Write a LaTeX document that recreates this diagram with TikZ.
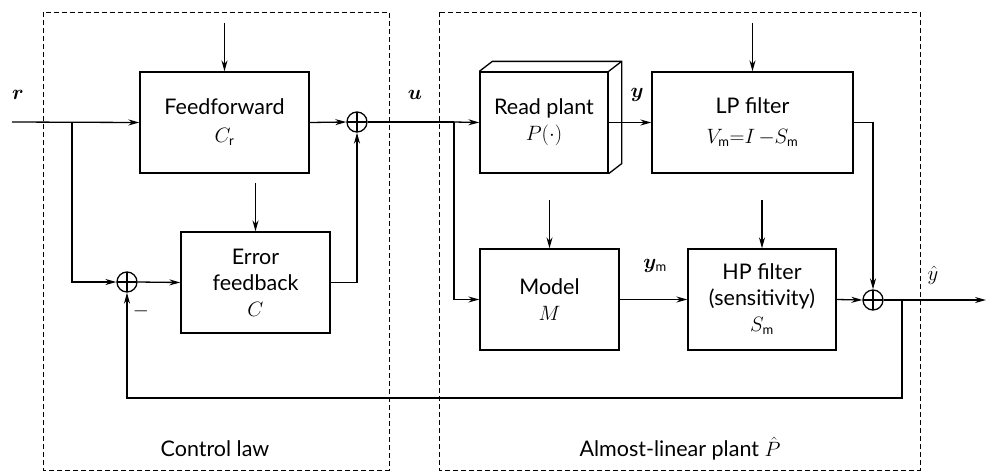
\documentclass[tikz,border=0pt]{standalone}
\usepackage{amsmath,bm}
\usepackage{fontspec}
\setmainfont{Lato}
\usetikzlibrary{arrows.meta,calc}
\begin{document}
\begin{tikzpicture}[x=1pt,y=-1pt,font=\fontsize{21.5}{26}\selectfont,line width=1.3pt,
  blk/.style={draw,rectangle,inner sep=0pt,align=center},
  sumnode/.style={draw,circle,minimum size=20pt,inner sep=0pt,
    path picture={\draw (path picture bounding box.north)--(path picture bounding box.south)
      (path picture bounding box.west)--(path picture bounding box.east);}},
  arr/.style={-{Stealth[length=11pt,width=6pt]}},
  grp/.style={draw,dash pattern=on 5pt off 3pt,line width=1pt}]
\useasboundingbox (0,0) rectangle (986,472);
% groups
\draw[grp] (43,12) rectangle (389,470);
\draw[grp] (439,12) rectangle (920,470);
\node (lawlbl) at (215,449) {Control law};
\node (plantlbl) at (680,449) {Almost-linear plant $\hat{P}$};
% blocks
\node[blk,minimum width=169pt,minimum height=101pt] (ff) at (224.5,122.5) {Feedforward\\[2pt]$C_{\text{\fontsize{13}{14}\selectfont r}}$};
\node[blk,minimum width=149pt,minimum height=101pt] (fb) at (255.5,282.5) {Error\\feedback\\$C$};
\node[sumnode] (s1) at (127,282) {};
\node[sumnode] (s2) at (357,122) {};
\node[blk,minimum width=128pt,minimum height=101pt] (plant) at (544,122.5) {Read plant\\$P(\cdot)$};
\node[blk,minimum width=201pt,minimum height=101pt] (lp) at (752.5,122.5) {LP filter\\[4pt]$V_{\text{\fontsize{13}{14}\selectfont m}}{=}I\,{-}S_{\text{\fontsize{13}{14}\selectfont m}}$};
\node[blk,minimum width=139pt,minimum height=101pt] (model) at (549.5,299.5) {Model\\$M$};
\node[blk,minimum width=148pt,minimum height=101pt] (hp) at (762,299.5) {HP filter\\(sensitivity)\\$S_{\text{\fontsize{13}{14}\selectfont m}}$};
\node[sumnode] (s3) at (873,300) {};
% 3D edges of plant
\draw (plant.north west) -- ++(13,-10) coordinate (pa) -- ($(plant.north east)+(13,-10)$) coordinate (pb)
  -- ($(plant.south east)+(13,-10)$) coordinate (pc) -- (plant.south east);
\draw (plant.north east) -- (pb);
% signal labels
\node (rlbl) at (18,95) {$\bm{r}$};
\node (ulbl) at (415,95) {$\bm{u}$};
\node (ylbl) at (637,95) {$\bm{y}$};
\node (ymlbl) at (655,266) {$\bm{y}_{\text{\fontsize{13}{14}\selectfont m}}$};
\node (yhlbl) at (933,275) {$\hat{y}$};
\node (minus) at (141,311) {$-$};
% coordinates
\coordinate (rin) at (12,122);
\coordinate (j1) at (72,122);
\coordinate (j2) at (454,122);
\coordinate (j3) at (902,300);
\coordinate (c1) at (902,398);
\coordinate (yout) at (986,300);
\coordinate (t1) at (224.5,23);
\coordinate (t2) at (255.5,183);
\coordinate (t3) at (752.5,23);
\coordinate (t4) at (549.5,200);
\coordinate (t5) at (762,200);
% connectors
\draw[arr] (rin) -- (ff.west);
\draw[arr] (j1) |- (s1.west);
\draw[arr] (s1.east) -- (fb.west);
\draw[arr] (ff.east) -- (s2.west);
\draw[arr] (fb.east) -| (s2.south);
\draw (s2.east) -- (j2);
\draw[arr] (j2) -- (plant.west);
\draw[arr] (j2) |- (model.west);
\draw[arr] (plant.east) -- (lp.west);
\draw[arr] (lp.east) -| (s3.north);
\draw[arr] (model.east) -- (hp.west);
\draw[arr] (hp.east) -- (s3.west);
\draw[arr] (s3.east) -- (yout);
\draw[arr] (j3) -- (c1) -| (s1.south);
\draw[arr] (t1) -- (ff.north);
\draw[arr] (t2) -- (fb.north);
\draw[arr] (t3) -- (lp.north);
\draw[arr] (t4) -- (model.north);
\draw[arr] (t5) -- (hp.north);
\end{tikzpicture}
\end{document}
